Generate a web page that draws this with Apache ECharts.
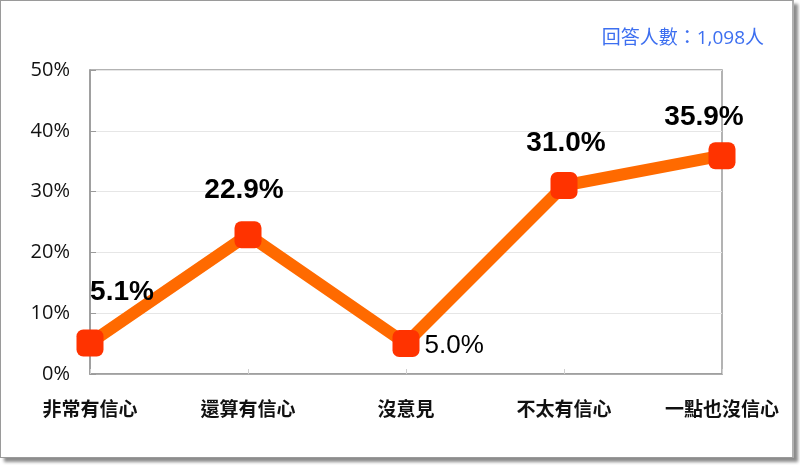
<!DOCTYPE html>
<html>
<head>
<meta charset="utf-8">
<script src="https://cdn.jsdelivr.net/npm/echarts@6/dist/echarts.min.js"></script>
<style>
html,body{margin:0;padding:0;background:#fff;}
#frame{position:absolute;left:0;top:0;width:791px;height:456px;border:1px solid #9a9a9a;border-right:2px solid #b0b0b0;box-shadow:4px 4px 3px #8c8c8c;background:#fff;}
#chart{width:791px;height:456px;}
</style>
</head>
<body>
<div id="frame"><div id="chart"></div></div>
<script>
// 類別與數值
var categories = ['非常有信心','還算有信心','沒意見','不太有信心','一點也沒信心'];
var values = [5.1, 22.9, 5.0, 31.0, 35.9];
var yTicks = [0, 10, 20, 30, 40, 50];
var noteText = '回答人數：1,098人';

var myChart = echarts.init(document.getElementById('chart'));

// 每個點的標籤位置
var labelPos = [
	{position:'top', offset:[32,-18], fontWeight:'bold'},
	{position:'top', offset:[-4,-12], fontWeight:'bold'},
	{position:'right', offset:[0,2], fontWeight:'normal'},
	{position:'top', offset:[2,-10], fontWeight:'bold'},
	{position:'top', offset:[-18,-6], fontWeight:'bold'}
];

var seriesData = values.map(function(v, i){
	var p = labelPos[i];
	return {
		value: v,
		label: {show:true, position:p.position, offset:p.offset, fontWeight:p.fontWeight,
			fontSize: p.fontWeight == 'bold' ? 28 : 26}
	};
});

var option = {
	animation:false,
	grid:{left:89, right:70, top:69, bottom:83, containLabel:false, show:true, borderColor:'#9a9a9a', borderWidth:1.5},
	graphic:[{
		type:'text', right:28, top:28,
		style:{text:noteText, fill:'#3d6ff0', fontSize:19, fontFamily:'"Open Sans", "Noto Sans CJK TC", sans-serif'}
	}],
	xAxis:{
		type:'category', data:categories, boundaryGap:false,
		axisLine:{lineStyle:{color:'#9a9a9a', width:1.5}},
		axisTick:{show:true, inside:true, length:5, lineStyle:{color:'#cfcfcf'}},
		axisLabel:{color:'#111', fontSize:19, margin:25, fontFamily:'"Noto Sans CJK TC", sans-serif', fontWeight:'bold'}
	},
	yAxis:{
		type:'value', min:0, max:50, interval:10,
		axisLine:{show:true, lineStyle:{color:'#9a9a9a', width:1.5}},
		axisTick:{show:true, inside:true, length:6, lineStyle:{color:'#9a9a9a'}},
		splitLine:{lineStyle:{color:'#e6e6e6'}},
		axisLabel:{color:'#111', fontSize:20, margin:20, fontFamily:'"Open Sans", sans-serif', formatter:function(v){return v+'%';}}
	},
	series:[{
		type:'line', data:seriesData,
		lineStyle:{color:'#ff6a00', width:12},
		symbol:'roundRect', symbolSize:27,
		itemStyle:{color:'#ff3300'},
		label:{color:'#000', fontFamily:'Arial, "Liberation Sans", sans-serif',
			formatter:function(p){return p.value.toFixed(1)+'%';}}
	}]
};
myChart.setOption(option);
</script>
</body>
</html>
